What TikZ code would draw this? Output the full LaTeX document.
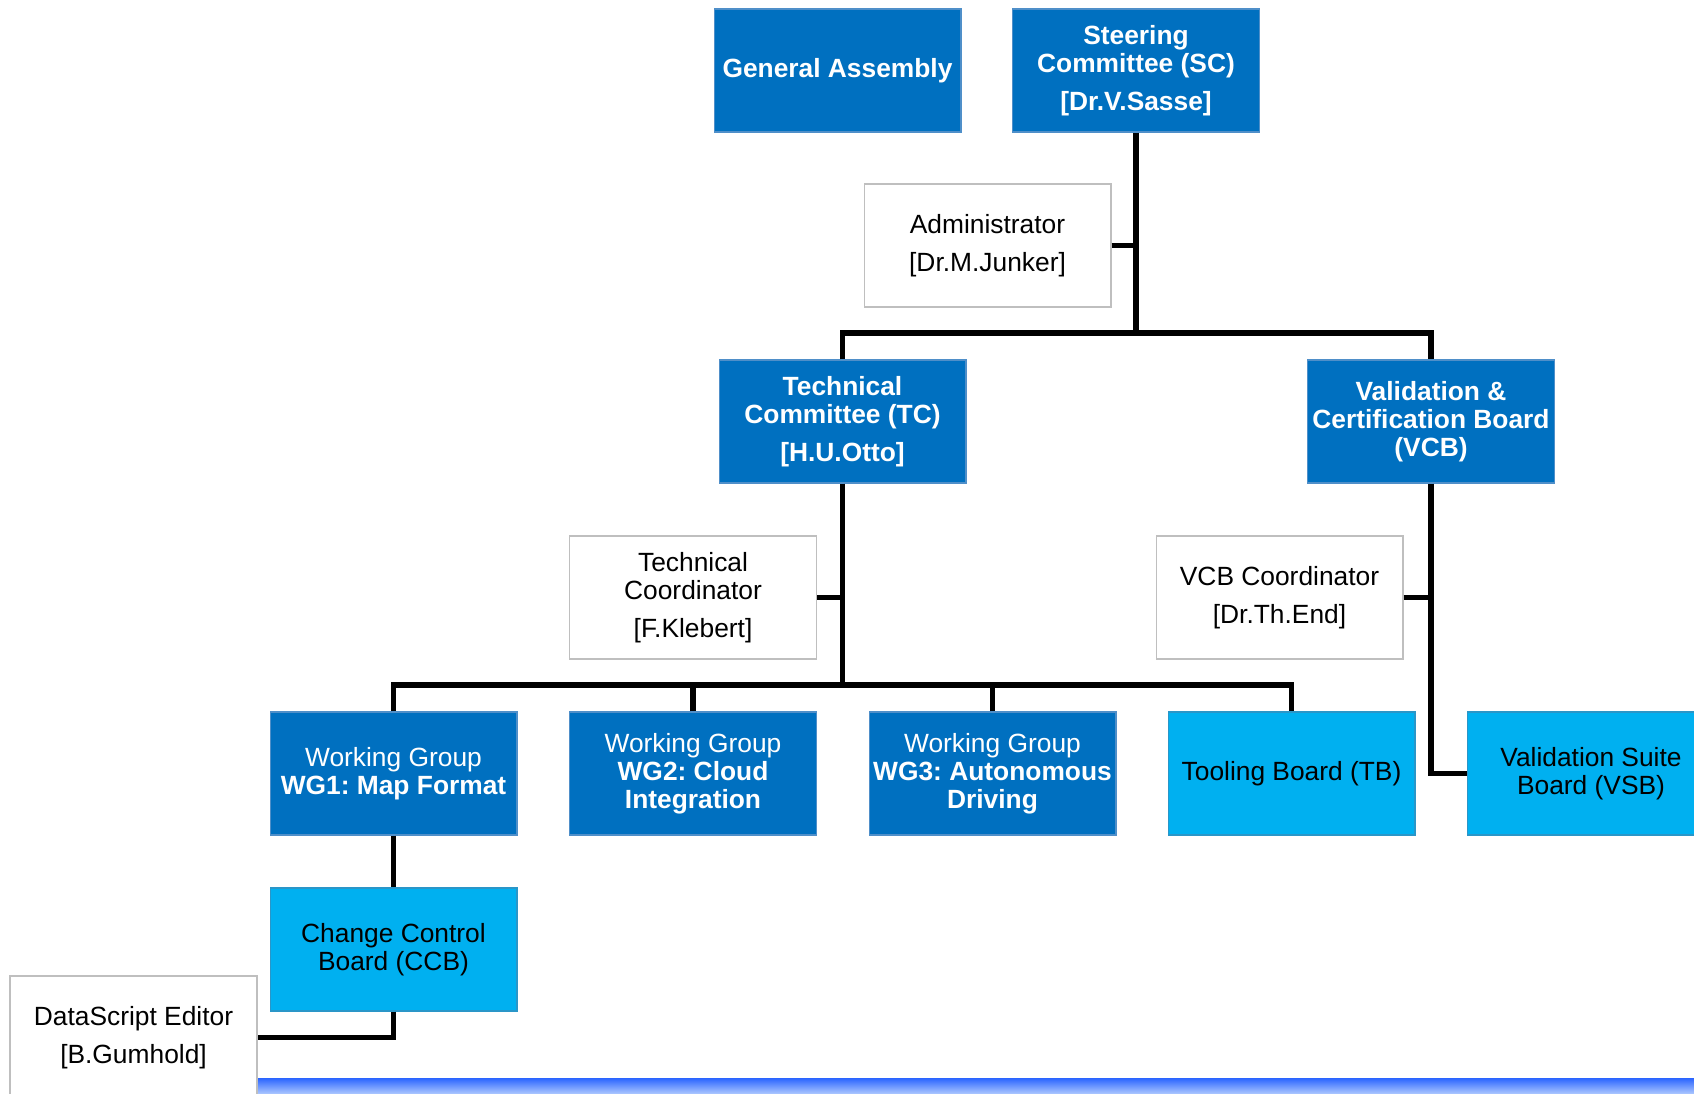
\documentclass[tikz,border=0pt]{standalone}
\usepackage{fontspec}
\setmainfont{Liberation Sans}
\frenchspacing
\definecolor{dblue}{HTML}{0070C0}
\definecolor{lblue}{HTML}{00B0F0}
\definecolor{dborder}{HTML}{4F8FC9}
\definecolor{lborder}{HTML}{2A96C8}
\definecolor{gborder}{HTML}{BFBFBF}
\definecolor{bartop}{HTML}{2A64FF}
\definecolor{barbot}{HTML}{AEC9FF}
\begin{document}
\begin{tikzpicture}[x=0.02cm,y=-0.02cm,
  box/.style={rectangle,minimum width=4.94cm,minimum height=2.46cm,inner sep=0pt,
    align=center,font=\fontsize{15}{15.9}\selectfont,line width=0.6pt},
  darkbox/.style={box,fill=dblue,draw=dborder,text=white},
  lightbox/.style={box,fill=lblue,draw=lborder,text=black},
  whitebox/.style={box,fill=white,draw=gborder,text=black},
  conn/.style={line width=2.9pt,draw=black,line join=miter}]
\useasboundingbox (0,0) rectangle (1694,1094);
\fill[white] (0,0) rectangle (1694,1094);

% bottom bar
\shade[top color=bartop,bottom color=barbot] (257,1078) rectangle (1694,1094);

% nodes
\node[darkbox,font=\fontsize{15}{15.9}\selectfont\bfseries] (ga) at (837.5,70.5) {General Assembly};
\node[darkbox,font=\fontsize{15}{15.9}\selectfont\bfseries] (sc) at (1136,70.5) {Steering\\Committee (SC)\\[5.7pt]{[Dr.V.Sasse]}};
\node[whitebox] (admin) at (987.5,245.5) {Administrator\\[5.7pt]{[Dr.M.Junker]}};
\node[darkbox,font=\fontsize{15}{15.9}\selectfont\bfseries] (tc) at (842.5,421.5) {Technical\\Committee (TC)\\[5.7pt]{[H.U.Otto]}};
\node[darkbox,font=\fontsize{15}{15.9}\selectfont\bfseries] (vcb) at (1431,421.5) {Validation \&\\Certification Board\\(VCB)};
\node[whitebox] (tcoord) at (693,597.5) {Technical\\Coordinator\\[5.7pt]{[F.Klebert]}};
\node[whitebox] (vcoord) at (1279.5,597.5) {VCB Coordinator\\[5.7pt]{[Dr.Th.End]}};
\node[darkbox] (wg1) at (393.5,773.5) {Working Group\\\textbf{WG1: Map Format}};
\node[darkbox] (wg2) at (693,773.5) {Working Group\\\textbf{WG2: Cloud}\\\textbf{Integration}};
\node[darkbox] (wg3) at (992.5,773.5) {Working Group\\\textbf{WG3: Autonomous}\\\textbf{Driving}};
\node[lightbox] (tb) at (1291.5,773.5) {Tooling Board (TB)};
\node[lightbox] (vsb) at (1591,773.5) {Validation Suite\\Board (VSB)};
\node[lightbox] (ccb) at (393.5,949.5) {Change Control\\Board (CCB)};
\node[whitebox] (ds) at (133.5,1037.5) {DataScript Editor\\[5.7pt]{[B.Gumhold]}};

% junctions
\coordinate (j1) at (1136,333);
\coordinate (j2) at (842.5,685);

% connectors
\draw[conn] (sc.south) -- (j1);
\draw[conn] (admin.east) -- (admin.east -| j1);
\draw[conn] (tc.north) |- (j1) -| (vcb.north);
\draw[conn] (tc.south) -- (j2);
\draw[conn] (tcoord.east) -- (tcoord.east -| j2);
\draw[conn] (wg1.north) |- (j2) -| (tb.north);
\draw[conn] (wg2.north) -- (wg2.north |- j2);
\draw[conn] (wg3.north) -- (wg3.north |- j2);
\draw[conn] (vcb.south) |- (vsb.west);
\draw[conn] (vcoord.east) -- (vcoord.east -| vcb.south);
\draw[conn] (wg1.south) -- (ccb.north);
\draw[conn] (ccb.south) |- (ds.east);
\end{tikzpicture}
\end{document}
